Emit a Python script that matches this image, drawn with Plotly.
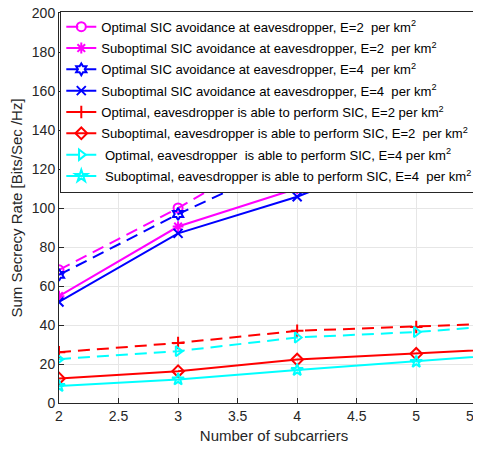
import plotly.graph_objects as go

subcarriers = [2, 3, 4, 5, 6]
opt_avoid_E2 = [68.3, 100.0, 135.0, 160.0, 180.0]
sub_avoid_E2 = [54.8, 90.5, 110.0, 135.0, 155.0]
opt_avoid_E4 = [65.7, 96.9, 125.0, 150.0, 170.0]
sub_avoid_E4 = [51.8, 87.0, 105.8, 130.0, 150.0]
opt_sic_E2 = [26.0, 30.8, 37.0, 39.0, 41.5]
sub_sic_E2 = [12.6, 16.3, 22.3, 25.2, 28.5]
opt_sic_E4 = [22.5, 26.6, 33.6, 36.4, 41.0]
sub_sic_E4 = [8.7, 12.1, 16.9, 21.1, 26.0]

names = [
    "Optimal SIC avoidance at eavesdropper, E=2  per km<sup>2</sup>",
    "Suboptimal SIC avoidance at eavesdropper, E=2  per km<sup>2</sup>",
    "Optimal SIC avoidance at eavesdropper, E=4  per km<sup>2</sup>",
    "Suboptimal SIC avoidance at eavesdropper, E=4  per km<sup>2</sup>",
    "Optimal, eavesdropper is able to perform SIC, E=2 per km<sup>2</sup>",
    "Suboptimal, eavesdropper is able to perform SIC, E=2  per km<sup>2</sup>",
    " Optimal, eavesdropper  is able to perform SIC, E=4 per km<sup>2</sup>",
    " Suboptimal, eavesdropper is able to perform SIC, E=4  per km<sup>2</sup>",
]
series = [opt_avoid_E2, sub_avoid_E2, opt_avoid_E4, sub_avoid_E4,
          opt_sic_E2, sub_sic_E2, opt_sic_E4, sub_sic_E4]
colors = ["#FF00FF", "#FF00FF", "#0000FF", "#0000FF",
          "#FF0000", "#FF0000", "#00FFFF", "#00FFFF"]
dashes = ["12px,7px", "solid", "12px,7px", "solid",
          "12px,7px", "solid", "12px,7px", "solid"]
symbols = ["circle-open", "asterisk-open", "hexagram-open", "x-thin-open",
           "cross-thin-open", "diamond-open", "triangle-right-open", "star-open"]

fig = go.Figure()
for i, (name, ys, c, d, s) in enumerate(zip(names, series, colors, dashes, symbols)):
    fig.add_trace(go.Scatter(
        x=subcarriers, y=ys, name=name, mode="lines+markers",
        legendgroup=f"g{i}",
        line=dict(color=c, width=2, dash=d),
        marker=dict(symbol=s, size=9, color=c, line=dict(color=c, width=2)),
    ))

axis_font = dict(family="Liberation Sans, Arial, sans-serif", size=14, color="#262626")
fig.update_layout(
    width=481, height=449,
    margin=dict(l=51, r=0, t=5, b=54, autoexpand=False),
    plot_bgcolor="white", paper_bgcolor="white",
    font=dict(family="Liberation Sans, Arial, sans-serif", size=14, color="#262626"),
    showlegend=True,
    legend=dict(
        x=0.003, y=1.006, xanchor="left", yanchor="top",
        bgcolor="white", bordercolor="#262626", borderwidth=1,
        font=dict(family="Liberation Sans, Arial, sans-serif", size=13.1, color="#000000"),
        tracegroupgap=1.3, itemwidth=30,
    ),
    xaxis=dict(
        range=[2, 5.611], tickvals=[2, 2.5, 3, 3.5, 4, 4.5, 5, 5.5],
        ticktext=["2", "2.5", "3", "3.5", "4", "4.5", "5", "5.5"],
        showgrid=True, gridcolor="#E6E6E6", gridwidth=1,
        showline=True, linecolor="#262626", linewidth=1, mirror=True,
        ticks="inside", ticklen=5, tickcolor="#262626", zeroline=False,
        tickfont=axis_font, automargin=True, ticklabeloverflow="allow",
        title=dict(text="Number of subcarriers", font=dict(size=15, color="#262626"), standoff=7),
    ),
    yaxis=dict(
        range=[0, 200], tickvals=list(range(0, 201, 20)),
        showgrid=True, gridcolor="#E6E6E6", gridwidth=1,
        showline=True, linecolor="#262626", linewidth=1, mirror=False,
        ticks="inside", ticklen=5, tickcolor="#262626", zeroline=False,
        tickfont=axis_font, automargin=True, ticklabeloverflow="allow",
        title=dict(text="Sum Secrecy Rate [Bits/Sec /Hz]", font=dict(size=15, color="#262626"), standoff=6),
    ),
)
fig.write_html("out.html")
